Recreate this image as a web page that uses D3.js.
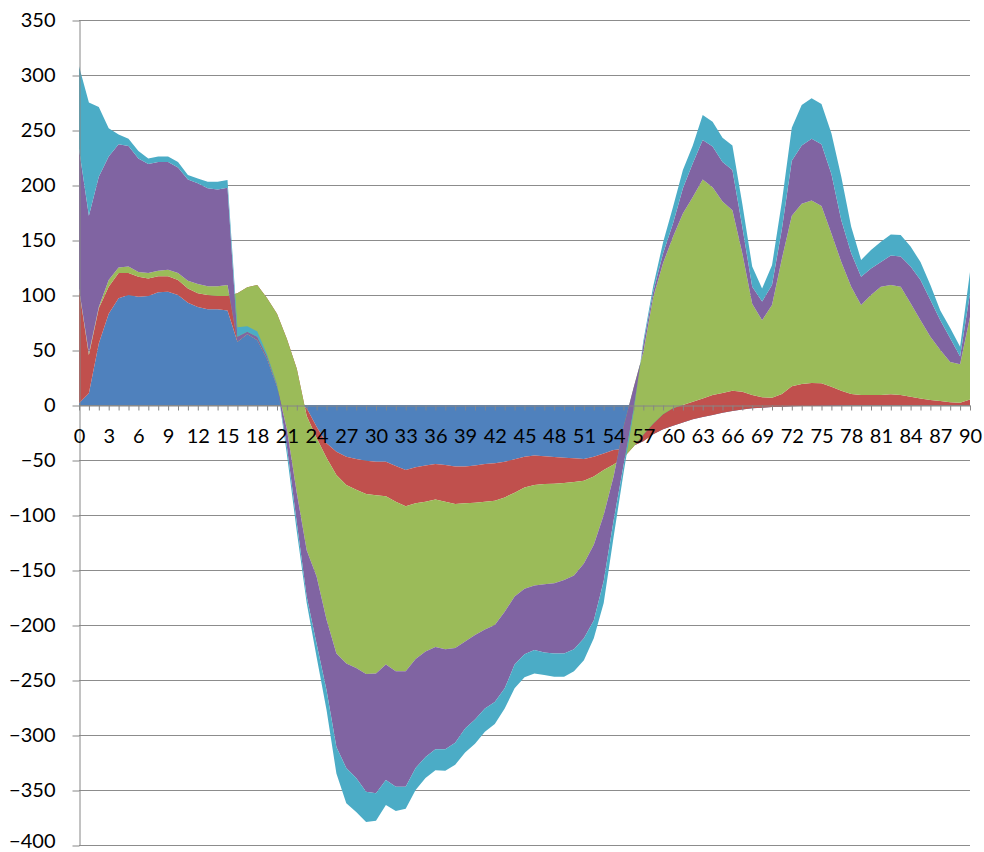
<!DOCTYPE html>
<html><head><meta charset="utf-8">
<script src="https://cdn.jsdelivr.net/npm/d3@7"></script>
<style>
body{margin:0;background:#fff}
svg{display:block}
text{font-family:Lato,"Open Sans",sans-serif;fill:#000}
</style>
</head><body>
<svg id="chart" width="984" height="852"></svg>
<script>
const categories = d3.range(0, 91);
const seriesNames = ["S1", "S2", "S3", "S4", "S5"];

const s1 = [1.5,10.6,56,83,97,100,98.5,99,102.4,103,100,93,89,87,87,86,57.6,64.5,59,42,17,5,2,-3,-19.7,-34.8,-42.4,-47,-49,-50.6,-51.5,-51.5,-55.5,-59,-56.7,-55,-53.6,-54.5,-56,-56,-55,-53.6,-53,-51.5,-49.4,-47,-45.8,-46.7,-47.3,-48,-48.5,-49,-47,-44,-41,-40,-37,-33,-26.7,-22,-18.8,-15.8,-13,-11,-9,-7,-5.5,-4.2,-3,-2.4,-1.8,-1.5,-1.2,-1,-0.8,-0.6,-0.4,-0.2,0,0,0,0,0,0,0,0,0,0,0,0,0];
const s2 = [103.5,34.9,32,24.6,23,20,18.2,16,14.6,14,13.6,13,12.5,13,12,13,43.9,42.5,50,55,66,55,31,-7,-10.3,-13.2,-21.2,-25.7,-28,-30.4,-30.5,-31.5,-32.5,-33,-32.7,-33,-32.4,-33.5,-34,-33.4,-33.8,-34.4,-34,-32.5,-30.3,-28,-26.9,-25.1,-24.2,-23,-21.5,-19.8,-18,-15,-13,-8,-1,6,9.7,13.5,15.8,15.8,16,17,18,18,18.5,16.2,12,9.4,8.3,11.5,18.2,20,20.8,20.3,17.1,13.2,10,9,9,9,9.7,9,7.6,6,4.5,3.6,2.4,2,5];
const s3 = [1,1.5,1,6,5,6,4.3,5,5,6,6.4,7,8.5,8,9,10,-43.9,-42.5,-50,-55,-66,-82,-113,-122,-126,-147,-162.4,-162.3,-162,-163.5,-162,-153,-154,-150,-141.6,-136,-134,-134,-131,-125.6,-120.2,-116,-113,-104,-94.3,-92,-91.3,-91.2,-90.5,-88,-85,-75.2,-62,-41,-11,28,53,75,115,137.5,156,174,186,199,189,174,164,126,83,70,84.5,123,155,164,166,161.3,139.3,117,97.6,82,91,98.6,99.3,98.6,84.8,71,57.5,46.4,36.6,35,75];
const s4 = [127,125,118.5,112.4,112,109.5,103,99,99,98,96,92,91.5,89,88,88.5,4.4,2.2,3,2,1,-16,-27,-42,-61,-64,-85,-95,-100,-107,-109,-105,-105,-105,-99,-96,-93,-91,-86,-79,-77,-72,-70,-69.6,-62,-59.7,-58.7,-62,-63.8,-66.8,-67,-68,-69,-60,-40,-35,-20,7,5,9,12,23,30.7,36,37,36,36.6,24,15.6,17,18,27,50,53,56,56,54,38,30.4,25.7,24,22.4,27,27.4,33.4,36.6,33.5,27,21.6,7,21.5];
const s5 = [75,103,63.5,25.5,9,6.5,7,5,5,5,5,4,4.5,6,7,7,8.6,4.8,5,2,1,-7,-8,-6,-12,-18,-24,-32,-31,-27.5,-25,-22.6,-22,-20,-20,-19,-19,-19.4,-20,-22,-22,-21,-20,-18.4,-21.6,-20.9,-21.3,-20.5,-21.2,-21.2,-20,-20,-16,-20,-15,-7,-3,3,5,10,15,16.6,16.3,22.6,22.6,22,22.4,21,18.2,12,18,25,30,36.7,36.8,36.6,37,39.6,24,15.1,17,18.5,19,19.5,18.2,16.4,13.5,9,9.4,9,19.5];

const yTicks = d3.range(-400, 351, 50);
const xTickLabels = categories.filter(d => d % 3 === 0);
const colors = ["#4F81BD", "#C0504D", "#9BBB59", "#8064A2", "#4BACC6"];

const rows = categories.map((c, i) => ({cat: c, S1: s1[i], S2: s2[i], S3: s3[i], S4: s4[i], S5: s5[i]}));

const svg = d3.select("#chart");
const x = d3.scaleLinear().domain([0, 90]).range([79, 970]);
const y = d3.scaleLinear().domain([-400, 350]).range([845, 20]);

// gridlines
svg.append("g").selectAll("line").data(yTicks).join("line")
  .attr("x1", x(0)).attr("x2", x(90))
  .attr("y1", d => Math.round(y(d)) + 0.5).attr("y2", d => Math.round(y(d)) + 0.5)
  .attr("stroke", "#8c8c8c").attr("stroke-width", 1);

// stacked areas (simple cumulative stacking, drawn in series order)
const stack = d3.stack().keys(seriesNames).order(d3.stackOrderNone).offset(d3.stackOffsetNone);
const layers = stack(rows);
const area = d3.area()
  .x(d => x(d.data.cat))
  .y0(d => y(d[0]))
  .y1(d => y(d[1]));
svg.append("g").selectAll("path").data(layers).join("path")
  .attr("d", area)
  .attr("fill", (d, i) => colors[i]);

// y axis
const yAxis = svg.append("g").attr("transform", "translate(79.5,0)")
  .call(d3.axisLeft(y).tickValues(yTicks).tickSize(7).tickSizeOuter(0).tickPadding(17));
yAxis.selectAll("path,line").attr("stroke", "#868686");
yAxis.selectAll("line").attr("transform", "translate(0,0.5)");
yAxis.selectAll("text").attr("font-size", 20).attr("font-family", "Lato")
  .attr("dy", d => d === -400 ? "0.1em" : "0.3em").attr("fill", "#000");

// x axis at y = 0
const xAxis = svg.append("g").attr("transform", `translate(0,${Math.round(y(0)) + 0.5})`)
  .call(d3.axisBottom(x).tickValues(categories).tickSize(5).tickSizeOuter(0).tickPadding(18)
    .tickFormat(d => xTickLabels.includes(d) ? d : ""));
xAxis.selectAll("path,line").attr("stroke", "#868686");
xAxis.selectAll("text").attr("font-size", 20).attr("font-family", "Lato").attr("fill", "#000");
</script>
</body></html>
